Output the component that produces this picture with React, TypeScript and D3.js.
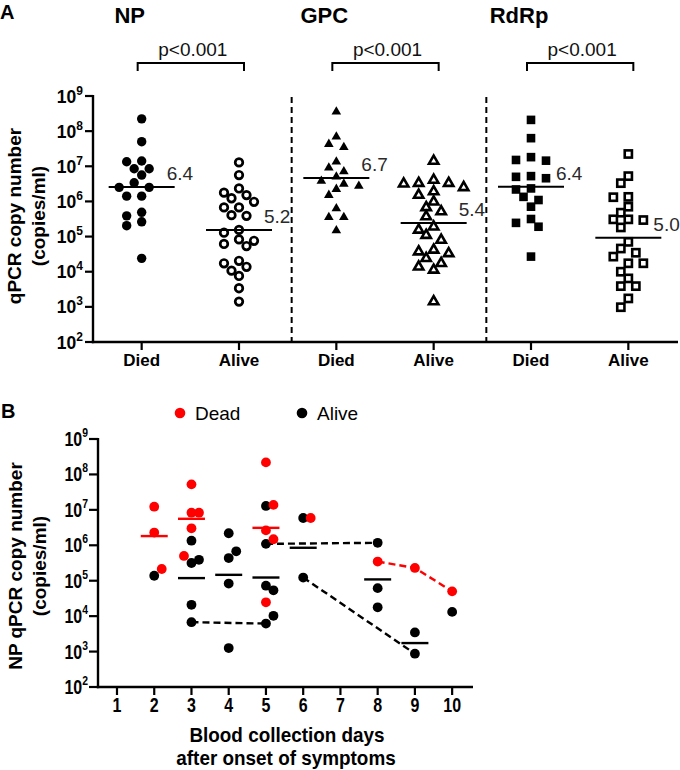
import React from 'react';
import * as d3 from 'd3';

// ---------------- Panel A data (log10 copies/ml) ----------------
const geneNames = ['NP', 'GPC', 'RdRp'];
const outcomeNames = ['Died', 'Alive'];
const pValueTexts = ['p<0.001', 'p<0.001', 'p<0.001'];
const exponentTicks = [2, 3, 4, 5, 6, 7, 8, 9];

const npDied = [8.35, 7.7, 7.15, 7.13, 6.93, 6.93, 6.75, 6.53, 6.4, 6.4, 6.15, 6.15, 5.69, 5.59, 5.42, 5.31, 4.38];
const npAlive = [7.11, 6.75, 6.37, 6.25, 6.18, 6.09, 5.99, 5.83, 5.83, 5.61, 5.59, 5.19, 5.11, 4.92, 4.88, 4.79, 4.73, 4.31, 4.24, 4.14, 4.03, 3.88, 3.53, 3.15];
const gpcDied = [8.55, 7.84, 7.63, 7.54, 7.13, 6.96, 6.85, 6.7, 6.58, 6.5, 6.44, 6.35, 6.18, 5.8, 5.55, 5.55, 5.17];
const gpcAlive = [7.15, 6.61, 6.52, 6.52, 6.5, 6.4, 6.28, 6.18, 5.99, 5.83, 5.71, 5.57, 5.28, 5.19, 5.04, 4.9, 4.62, 4.57, 4.52, 4.38, 4.24, 4.14, 4.05, 3.15];
const rdrpDied = [8.32, 7.8, 7.26, 7.18, 7.16, 6.72, 6.7, 6.66, 6.37, 6.34, 6.13, 6.04, 5.85, 5.5, 5.39, 5.28, 4.43];
const rdrpAlive = [7.35, 6.72, 6.52, 6.13, 6.12, 5.85, 5.68, 5.49, 5.49, 5.47, 5.26, 4.85, 4.66, 4.54, 4.43, 4.24, 4.24, 4.0, 3.81, 3.59, 3.59, 3.24, 2.99];

// ---------------- Panel B data (log10 copies/ml) ----------------
const collectionDays = [1, 2, 3, 4, 5, 6, 7, 8, 9, 10];
const legendLabels = ['Dead', 'Alive'];
const deadDay = [2, 2, 2, 3, 3, 3, 3, 3, 5, 5, 5, 5, 5, 6, 8, 9, 10];
const deadLog = [7.09, 6.36, 5.33, 7.72, 6.92, 6.92, 6.48, 5.7, 8.34, 7.14, 6.42, 6.17, 4.39, 6.77, 5.54, 5.36, 4.7];
const aliveDay = [2, 3, 3, 3, 3, 3, 4, 4, 4, 4, 4, 5, 5, 5, 5, 5, 5, 6, 6, 8, 8, 8, 9, 9, 10];
const aliveLog = [5.14, 6.13, 5.5, 5.59, 4.32, 3.83, 6.34, 5.64, 5.83, 4.92, 3.1, 7.11, 6.04, 4.86, 4.73, 3.79, 4.01, 6.77, 5.09, 6.07, 4.79, 4.25, 3.54, 2.94, 4.12];
const aliveTracks = [
  [[3, 3.83], [5, 3.79]],
  [[5, 6.04], [8, 6.07]],
  [[6, 5.09], [9, 2.94]],
];
const deadTracks = [[[8, 5.54], [9, 5.36], [10, 4.7]]];

const FONT = '"Liberation Sans", Arial, Helvetica, sans-serif';
const RED = '#ff0000';

function slotOf(k: number) {
  if (k === 0) return 0;
  return k % 2 === 1 ? -Math.ceil(k / 2) : Math.ceil(k / 2);
}

// Euclidean beeswarm for panel A (processed from highest to lowest value)
function swarmA(vals: number[], ypx: (v: number) => number, step: number, minD: number) {
  const order = vals.map((_, i) => i).sort((a, b) => vals[b] - vals[a]);
  const placed: { dx: number; py: number }[] = [];
  const offs = new Array(vals.length).fill(0);
  for (const i of order) {
    const py = ypx(vals[i]);
    for (let k = 0; k < 30; k++) {
      const dx = slotOf(k) * step;
      if (placed.every((p) => Math.hypot(p.dx - dx, p.py - py) >= minD)) {
        offs[i] = dx;
        placed.push({ dx, py });
        break;
      }
    }
  }
  return offs;
}

const mean = (a: number[]) => d3.mean(a) as number;

export default function App() {
  const W = 680;
  const H = 770;

  // ---------- Panel A scales ----------
  const groups = geneNames.flatMap((g) => outcomeNames.map((o) => `${g}|${o}`));
  const groupValues = [npDied, npAlive, gpcDied, gpcAlive, rdrpDied, rdrpAlive];
  const xA = d3.scaleBand<string>().domain(groups).range([93, 677]);
  const cxA = (g: string) => (xA(g) as number) + xA.bandwidth() / 2;
  const yA = d3.scaleLog().domain([1e2, 1e9]).range([342, 96]);
  const yAv = (v: number) => yA(Math.pow(10, v));
  const aLeft = 93;
  const aRight = 678;
  const aBottom = 342;
  const aTop = 96;

  // ---------- Panel B scales ----------
  const xB = d3.scaleLinear().domain([0.49, 10.56]).range([98, 473]);
  const yB = d3.scaleLog().domain([1e2, 1e9]).range([687, 439]);
  const yBv = (v: number) => yB(Math.pow(10, v));
  const bLeft = 98;
  const bRight = 473;
  const bBottom = 687;
  const bTop = 439;

  // panel B points with slot-based swarm (alive first, then dead)
  type BP = { day: number; v: number; dead: boolean; x: number; y: number };
  const bPoints: BP[] = [];
  aliveDay.forEach((d, i) => bPoints.push({ day: d, v: aliveLog[i], dead: false, x: 0, y: 0 }));
  deadDay.forEach((d, i) => bPoints.push({ day: d, v: deadLog[i], dead: true, x: 0, y: 0 }));
  const placedB: { day: number; slot: number; y: number }[] = [];
  const stepB = 7.5;
  bPoints.forEach((p) => {
    p.y = yBv(p.v);
    for (let k = 0; k < 20; k++) {
      const s = k === 0 ? 0 : k % 2 === 1 ? Math.ceil(k / 2) : -Math.ceil(k / 2);
      const clash = placedB.some((q) => q.day === p.day && q.slot === s && Math.abs(q.y - p.y) < 9.5);
      if (!clash) {
        placedB.push({ day: p.day, slot: s, y: p.y });
        p.x = xB(p.day) + s * stepB;
        break;
      }
    }
  });
  const findB = (day: number, v: number, dead: boolean) =>
    bPoints.find((p) => p.day === day && p.v === v && p.dead === dead) as BP;

  const bMeans: { day: number; m: number; dead: boolean }[] = [];
  collectionDays.forEach((d) => {
    [false, true].forEach((dead) => {
      const vals = bPoints.filter((p) => p.day === d && p.dead === dead).map((p) => p.v);
      if (vals.length >= 2) bMeans.push({ day: d, m: mean(vals), dead });
    });
  });

  const lineGen = d3.line<BP>().x((p) => p.x).y((p) => p.y);

  const triFilled = d3.symbol(d3.symbolTriangle, 40)() as string;
  const triOpen = d3.symbol(d3.symbolTriangle, 38)() as string;

  const renderMarker = (gi: number, x: number, y: number, key: string) => {
    switch (gi) {
      case 0:
        return <circle key={key} cx={x} cy={y} r={4.7} fill="#000" />;
      case 1:
        return <circle key={key} cx={x} cy={y} r={3.8} fill="#fff" stroke="#000" strokeWidth={2.7} />;
      case 2:
        return <path key={key} d={triFilled} transform={`translate(${x},${y})`} fill="#000" />;
      case 3:
        return <path key={key} d={triOpen} transform={`translate(${x},${y})`} fill="#fff" stroke="#000" strokeWidth={2.6} strokeLinejoin="miter" />;
      case 4:
        return <rect key={key} x={x - 4.3} y={y - 4.3} width={8.6} height={8.6} fill="#000" />;
      default:
        return <rect key={key} x={x - 3.6} y={y - 3.6} width={7.2} height={7.2} fill="#fff" stroke="#000" strokeWidth={2.6} />;
    }
  };

  return (
    <svg
      width={W}
      height={H}
      viewBox={`0 0 ${W} ${H}`}
      style={{ position: 'absolute', left: 0, top: 0, display: 'block', background: '#fff' }}
      fontFamily={FONT}
    >
      <rect x={0} y={0} width={W} height={H} fill="#fff" />

      {/* ================= PANEL A ================= */}
      <text x={0} y={19} fontSize={20} fontWeight="bold">A</text>

      {geneNames.map((g) => (
        <text key={g} x={cxA(`${g}|Died`) - 12} y={23} fontSize={22} fontWeight="bold" textAnchor="middle">
          {g}
        </text>
      ))}

      {/* significance brackets */}
      {geneNames.map((g, i) => {
        const x1 = cxA(`${g}|Died`) - 4;
        const x2 = cxA(`${g}|Alive`) + 5;
        return (
          <g key={`br-${g}`}>
            <path d={`M${x1},71 V63 H${x2} V71`} fill="none" stroke="#000" strokeWidth={2} />
            <text x={(x1 + x2) / 2 + 2} y={56} fontSize={19} textAnchor="middle" fill="#111">
              {pValueTexts[i]}
            </text>
          </g>
        );
      })}

      {/* y axis title */}
      <g transform={`translate(21,216) rotate(-90)`}>
        <text x={0} y={0} fontSize={19} fontWeight="bold" textAnchor="middle">qPCR copy number</text>
        <text x={0} y={24} fontSize={19} fontWeight="bold" textAnchor="middle">(copies/ml)</text>
      </g>

      {/* separators */}
      {[1, 3].map((i) => {
        const x = (cxA(groups[i]) + cxA(groups[i + 1])) / 2 + 4;
        return <line key={`sep${i}`} x1={x} x2={x} y1={aTop + 1} y2={aBottom} stroke="#000" strokeWidth={2} strokeDasharray="6,4" />;
      })}

      {/* markers */}
      {groupValues.map((vals, gi) => {
        const offs = swarmA(vals, yAv, 7.5, 9);
        const cx = cxA(groups[gi]);
        return <g key={`grp${gi}`}>{vals.map((v, i) => renderMarker(gi, cx + offs[i], yAv(v), `m${gi}-${i}`))}</g>;
      })}

      {/* mean lines and labels */}
      {groupValues.map((vals, gi) => {
        const m = mean(vals);
        const cx = cxA(groups[gi]);
        const y = yAv(m);
        return (
          <g key={`mean${gi}`}>
            <line x1={cx - 33} x2={cx + 33} y1={y} y2={y} stroke="#000" strokeWidth={2} />
            <text x={cx + 25} y={y - 7} fontSize={19} fill="#2a2a2a">{m.toFixed(1)}</text>
          </g>
        );
      })}

      {/* axes */}
      <line x1={aLeft} x2={aLeft} y1={aTop - 1} y2={aBottom + 1.2} stroke="#000" strokeWidth={2.4} />
      <line x1={aLeft - 1.2} x2={aRight} y1={aBottom} y2={aBottom} stroke="#000" strokeWidth={2.4} />
      {exponentTicks.map((e) => {
        const y = yA(Math.pow(10, e));
        return (
          <g key={`ayt${e}`}>
            <line x1={aLeft - 8} x2={aLeft} y1={y} y2={y} stroke="#000" strokeWidth={2.2} />
            <text x={83} y={y + 6.5} fontSize={17.5} fontWeight="bold" textAnchor="end">
              <tspan>10</tspan>
              <tspan dy={-8} fontSize={12}>{e}</tspan>
            </text>
          </g>
        );
      })}
      {groups.map((g, i) => {
        const x = cxA(g);
        return (
          <g key={`axt${g}`}>
            <line x1={x} x2={x} y1={aBottom} y2={aBottom + 8} stroke="#000" strokeWidth={2.2} />
            <text x={x} y={366} fontSize={17} fontWeight="bold" textAnchor="middle">
              {outcomeNames[i % 2]}
            </text>
          </g>
        );
      })}

      {/* ================= PANEL B ================= */}
      <text x={1} y={418} fontSize={20} fontWeight="bold">B</text>

      {/* legend */}
      <circle cx={180} cy={413} r={5.3} fill={RED} />
      <text x={195} y={419.5} fontSize={19}>{legendLabels[0]}</text>
      <circle cx={302} cy={413} r={5.3} fill="#000" />
      <text x={317} y={419.5} fontSize={19}>{legendLabels[1]}</text>

      {/* y title */}
      <g transform={`translate(22,566) rotate(-90)`}>
        <text x={0} y={0} fontSize={19} fontWeight="bold" textAnchor="middle">NP qPCR copy number</text>
        <text x={0} y={24} fontSize={19} fontWeight="bold" textAnchor="middle">(copies/ml)</text>
      </g>

      {/* tracks */}
      {aliveTracks.map((tr, i) => (
        <path
          key={`at${i}`}
          d={lineGen(tr.map(([d, v]) => findB(d, v, false))) as string}
          fill="none"
          stroke="#000"
          strokeWidth={2.4}
          strokeDasharray="7,4"
        />
      ))}
      {deadTracks.map((tr, i) => (
        <path
          key={`dt${i}`}
          d={lineGen(tr.map(([d, v]) => findB(d, v, true))) as string}
          fill="none"
          stroke={RED}
          strokeWidth={2.4}
          strokeDasharray="7,4"
        />
      ))}

      {/* points */}
      {bPoints.map((p, i) => (
        <circle key={`bp${i}`} cx={p.x} cy={p.y} r={4.9} fill={p.dead ? RED : '#000'} />
      ))}

      {/* mean lines */}
      {bMeans.map((m, i) => {
        const x = xB(m.day);
        const y = yBv(m.m);
        return (
          <line
            key={`bm${i}`}
            x1={x - 13.5}
            x2={x + 13.5}
            y1={y}
            y2={y}
            stroke={m.dead ? RED : '#000'}
            strokeWidth={2.4}
          />
        );
      })}

      {/* axes */}
      <line x1={bLeft} x2={bLeft} y1={bTop - 1} y2={bBottom + 1.2} stroke="#000" strokeWidth={2.4} />
      <line x1={bLeft - 1.2} x2={bRight} y1={bBottom} y2={bBottom} stroke="#000" strokeWidth={2.4} />
      {exponentTicks.map((e) => {
        const y = yB(Math.pow(10, e));
        return (
          <g key={`byt${e}`}>
            <line x1={bLeft - 9} x2={bLeft} y1={y} y2={y} stroke="#000" strokeWidth={2.2} />
            <text transform={`translate(88,${y + 7}) scale(0.8,1)`} fontSize={20} fontWeight="bold" textAnchor="end">
              <tspan>10</tspan>
              <tspan dy={-9} fontSize={13}>{e}</tspan>
            </text>
          </g>
        );
      })}
      {collectionDays.map((d) => {
        const x = xB(d);
        return (
          <g key={`bxt${d}`}>
            <line x1={x} x2={x} y1={bBottom} y2={bBottom + 8} stroke="#000" strokeWidth={2.2} />
            <text transform={`translate(${x},712) scale(0.8,1)`} fontSize={20} fontWeight="bold" textAnchor="middle">
              {d}
            </text>
          </g>
        );
      })}
      <text transform={`translate(287,742) scale(0.9,1)`} fontSize={21} fontWeight="bold" textAnchor="middle">
        Blood collection days
      </text>
      <text transform={`translate(286,765) scale(0.9,1)`} fontSize={21} fontWeight="bold" textAnchor="middle">
        after onset of symptoms
      </text>
    </svg>
  );
}
